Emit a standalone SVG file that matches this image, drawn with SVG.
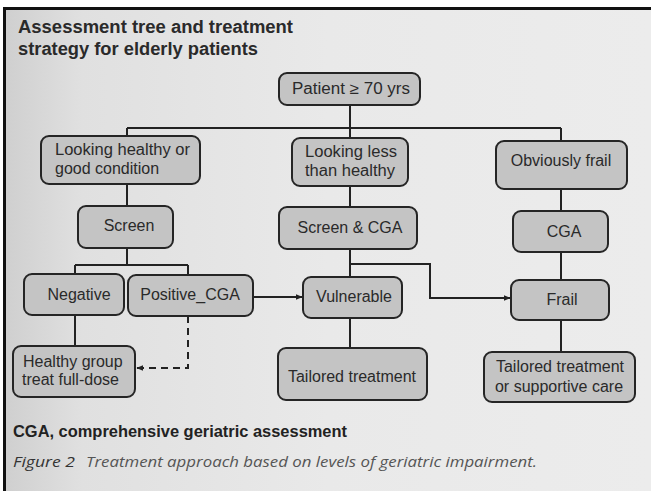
<svg xmlns="http://www.w3.org/2000/svg" width="651" height="491" viewBox="0 0 651 491">
<defs>
<linearGradient id="bg" x1="0" y1="0" x2="1" y2="0">
<stop offset="0" stop-color="#cfcfcf"/>
<stop offset="0.12" stop-color="#e0e0e0"/>
<stop offset="0.5" stop-color="#e9e9e9"/>
<stop offset="1" stop-color="#ececec"/>
</linearGradient>
<marker id="ah" viewBox="0 0 10 10" refX="9" refY="5" markerWidth="7" markerHeight="7" markerUnits="userSpaceOnUse" orient="auto">
<path d="M0,1 L10,5 L0,9 z" fill="#222"/>
</marker>
<style>
.box{fill:#c4c4c4;stroke:#252525;stroke-width:2}
.t{font-family:"Liberation Sans",Arial,sans-serif;font-size:16px;fill:#2a2a2a}
.c{text-anchor:middle}
.ln{fill:none;stroke:#222;stroke-width:2}
.dash{fill:none;stroke:#222;stroke-width:2;stroke-dasharray:7,5}
.ttl{font-family:"Liberation Sans",Arial,sans-serif;font-size:18px;font-weight:bold;fill:#2a2a2a}
.cap{font-family:"Open Sans","Liberation Sans",sans-serif;font-size:14.5px;font-style:italic}
</style>
</defs>
<rect x="0" y="0" width="651" height="491" fill="#ffffff"/>
<rect x="4" y="8" width="647" height="483" fill="url(#bg)"/>
<line x1="4" y1="8.5" x2="651" y2="8.5" stroke="#111" stroke-width="3"/>
<line x1="4.5" y1="7" x2="4.5" y2="491" stroke="#111" stroke-width="3"/>

<text class="ttl" x="18" y="33" textLength="275" lengthAdjust="spacingAndGlyphs">Assessment tree and treatment</text>
<text class="ttl" x="18" y="55" textLength="240" lengthAdjust="spacingAndGlyphs">strategy for elderly patients</text>

<g id="connectors">
<path class="ln" d="M350,105 V128 M127,128 H561 M127,128 V136 M350,128 V138 M561,128 V141"/>
<path class="ln" d="M127,184 V206 M350,186 V207 M561,189 V211"/>
<path class="ln" d="M127,248 V265 M75,265 H188 M75,265 V274 M188,265 V275"/>
<path class="ln" d="M75,315 V346"/>
<path class="dash" d="M188,316 V368 H137" marker-end="url(#ah)"/>
<path class="ln" d="M253,297 H302" marker-end="url(#ah)"/>
<path class="ln" d="M350,249 V277 M350,264 H430 V298 H510" marker-end="url(#ah)"/>
<path class="ln" d="M561,252 V280"/>
<path class="ln" d="M350,318 V349 M561,320 V352"/>
</g>

<g id="patient"><rect class="box" x="279" y="73" width="141" height="32" rx="8"/><text class="t" x="292" y="94" textLength="118" lengthAdjust="spacingAndGlyphs">Patient ≥ 70 yrs</text></g>

<g id="healthy"><rect class="box" x="41" y="136" width="159" height="48" rx="8"/><text class="t" x="55" y="155" textLength="135" lengthAdjust="spacingAndGlyphs">Looking healthy or</text><text class="t" x="55" y="174">good condition</text></g>

<g id="less"><rect class="box" x="292" y="138" width="116" height="48" rx="8"/><text class="t" x="305" y="157" textLength="92" lengthAdjust="spacingAndGlyphs">Looking less</text><text class="t" x="305" y="176" textLength="90" lengthAdjust="spacingAndGlyphs">than healthy</text></g>

<g id="frailObvious"><rect class="box" x="496" y="141" width="131" height="48" rx="8"/><text class="t c" x="561" y="166">Obviously frail</text></g>

<g id="screen"><rect class="box" x="78" y="206" width="95" height="42" rx="8"/><text class="t c" x="129" y="231">Screen</text></g>

<g id="screenCGA"><rect class="box" x="279" y="207" width="138" height="42" rx="8"/><text class="t c" x="350" y="233">Screen &amp; CGA</text></g>

<g id="cga"><rect class="box" x="513" y="211" width="95" height="41" rx="8"/><text class="t c" x="564" y="237">CGA</text></g>

<g id="negative"><rect class="box" x="24" y="274" width="100" height="41" rx="8"/><text class="t c" x="79" y="300">Negative</text></g>

<g id="positive"><rect class="box" x="128" y="275" width="125" height="41" rx="8"/><text class="t c" x="190" y="300">Positive_CGA</text></g>

<g id="vulnerable"><rect class="box" x="303" y="277" width="99" height="41" rx="8"/><text class="t c" x="354" y="302">Vulnerable</text></g>

<g id="frail"><rect class="box" x="511" y="280" width="98" height="40" rx="8"/><text class="t c" x="562" y="305">Frail</text></g>

<g id="healthyGroup"><rect class="box" x="13" y="346" width="122" height="51" rx="8"/><text class="t" x="23" y="367">Healthy group</text><text class="t" x="22" y="385">treat full-dose</text></g>

<g id="tailored"><rect class="box" x="278" y="348" width="149" height="52" rx="8"/><text class="t c" x="352" y="382">Tailored treatment</text></g>

<g id="tailoredSupport"><rect class="box" x="484" y="352" width="151" height="50" rx="8"/><text class="t c" x="560" y="372">Tailored treatment</text><text class="t c" x="559" y="392">or supportive care</text></g>

<text x="13" y="437" font-family="Liberation Sans, Arial, sans-serif" font-size="17" font-weight="bold" fill="#222" textLength="334" lengthAdjust="spacingAndGlyphs">CGA, comprehensive geriatric assessment</text>
<text class="cap" x="13" y="467" fill="#333" textLength="62" lengthAdjust="spacingAndGlyphs">Figure 2</text>
<text class="cap" x="86" y="467" fill="#555" textLength="451" lengthAdjust="spacingAndGlyphs">Treatment approach based on levels of geriatric impairment.</text>
</svg>
